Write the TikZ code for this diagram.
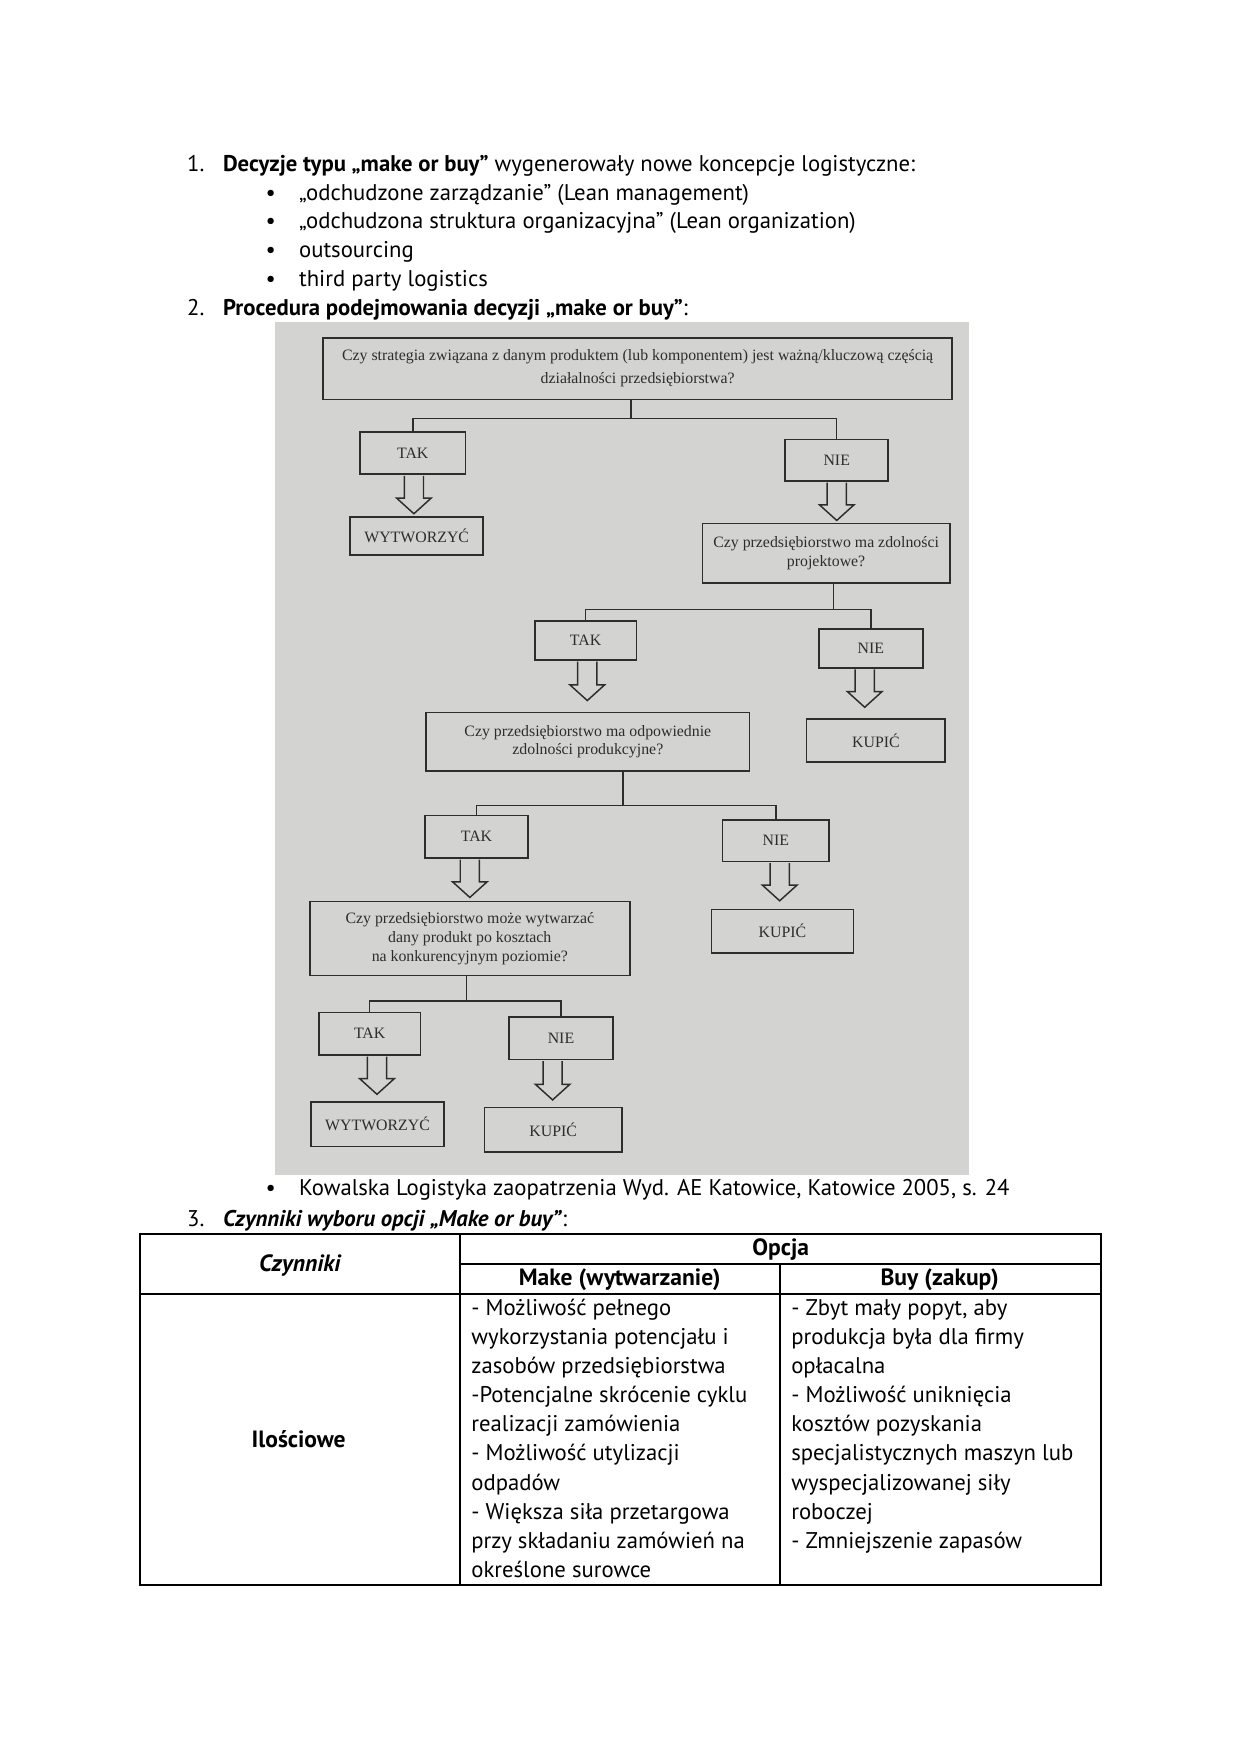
\documentclass[tikz,border=0pt]{standalone}
\usepackage{fontspec}
\setmainfont{PT Sans}
\newfontfamily\fcserif{Liberation Serif}
\usetikzlibrary{calc}
\definecolor{photo}{RGB}{211,211,209}
\definecolor{ink}{RGB}{45,45,45}
\tikzset{
  wh/.style 2 args={minimum width=#1*0.5368pt, minimum height=#2*0.5368pt},
  fcbox/.style={draw=ink, line width=0.8pt, fill=photo, inner sep=1pt, align=center,
    font=\fcserif\fontsize{7.6}{9}\selectfont, text=ink},
  fcline/.style={draw=ink, line width=0.7pt},
  harr/.style={draw=ink, line width=0.7pt, fill=photo},
  tline/.style={line width=1pt},
  doc/.style={font=\fontsize{10.9}{14}\selectfont, inner sep=0pt, anchor=base west},
  cell/.style={font=\fontsize{11.3}{14}\selectfont\bfseries, inner sep=0pt, anchor=center},
}
\newcommand\harrow[4]{%
  \draw[harr] let \p1=(#1.south), \p2=(#2.north), \p3=(#3,0) in
    ({\x3-4.6pt},{\y1-0.4pt}) -- ({\x3-4.6pt},{\y2+#4*0.5368pt+7.5pt})
    -- ({\x3-8.3pt},{\y2+#4*0.5368pt+7.5pt}) -- ({\x3},{\y2+#4*0.5368pt})
    -- ({\x3+8.3pt},{\y2+#4*0.5368pt+7.5pt}) -- ({\x3+4.6pt},{\y2+#4*0.5368pt+7.5pt})
    -- ({\x3+4.6pt},{\y1-0.4pt});}
\begin{document}
\begin{tikzpicture}[x=0.5368pt,y=-0.5368pt]
\useasboundingbox (0,0) rectangle (1109,1568);
\fill[white] (0,0) rectangle (1109,1568);

% ---------- section 1 ----------
\node[doc] (num1) at (167,153) {1.};
\node[doc] (l1) at (199,153) {\textbf{Decyzje typu „make or buy”} wygenerowały nowe koncepcje logistyczne:};
\foreach \t [count=\i] in {{„odchudzone zarządzanie” (Lean management)},
  {„odchudzona struktura organizacyjna” (Lean organization)},
  {outsourcing}, {third party logistics}}{
  \node[doc] (bul\i) at (237,{153+25.8*\i}) {•};
  \node[doc] (it\i) at (267,{153+25.8*\i}) {\t};
}
\node[doc] (num2) at (167,282) {2.};
\node[doc] (l2) at (199,282) {\textbf{Procedura podejmowania decyzji „make or buy”}:};

% ---------- flowchart (photo) ----------
\fill[photo] (246,288) rectangle (866,1050);

\node[fcbox, wh={562}{55}, font=\fcserif\fontsize{7.6}{11}\selectfont] (b1) at (570,329.5)
  {Czy strategia związana z danym produktem (lub komponentem) jest ważną/kluczową częścią\\działalności przedsiębiorstwa?};
\node[fcbox, wh={94}{38}] (t1) at (369,405) {TAK};
\node[fcbox, wh={92}{37}] (n1) at (748,411.5) {NIE};
\node[fcbox, wh={119}{34}] (w1) at (372.5,479) {WYTWORZYĆ};
\node[fcbox, wh={221}{53}] (b2) at (738.5,494.5) {Czy przedsiębiorstwo ma zdolności\\projektowe?};
\node[fcbox, wh={91}{35}] (t2) at (523.5,572.5) {TAK};
\node[fcbox, wh={93}{35}] (n2) at (778.5,579.5) {NIE};
\node[fcbox, wh={289}{52}] (b3) at (525.5,663) {Czy przedsiębiorstwo ma odpowiednie\\zdolności produkcyjne?};
\node[fcbox, wh={124}{38}] (k1) at (783,662) {KUPIĆ};
\node[fcbox, wh={92}{38}] (t3) at (426,748) {TAK};
\node[fcbox, wh={95}{37}] (n3) at (693.5,751.5) {NIE};
\node[fcbox, wh={286}{66}] (b4) at (420,839) {Czy przedsiębiorstwo może wytwarzać\\dany produkt po kosztach\\na konkurencyjnym poziomie?};
\node[fcbox, wh={127}{39}] (k2) at (699.5,832.5) {KUPIĆ};
\node[fcbox, wh={91}{38}] (t4) at (330.5,924) {TAK};
\node[fcbox, wh={93}{38}] (n4) at (501.5,928) {NIE};
\node[fcbox, wh={119}{40}] (w2) at (337.5,1005) {WYTWORZYĆ};
\node[fcbox, wh={123}{40}] (k3) at (494.5,1010) {KUPIĆ};

% tree connectors
\coordinate (j1) at (564,374);
\draw[fcline] (b1.south -| j1) -- (j1);
\draw[fcline] (t1.north) |- (j1) -| (n1.north);
\coordinate (j2) at (745,545);
\draw[fcline] (b2.south -| j2) -- (j2);
\draw[fcline] (t2.north) |- (j2) -| (n2.north);
\coordinate (j3) at (557,720);
\draw[fcline] (b3.south -| j3) -- (j3);
\draw[fcline] (t3.north) |- (j3) -| (n3.north);
\coordinate (j4) at (417,895);
\draw[fcline] (b4.south -| j4) -- (j4);
\draw[fcline] (t4.north) |- (j4) -| (n4.north);

% hollow arrows
\harrow{t1}{w1}{370}{2}
\harrow{n1}{b2}{748}{2}
\harrow{t2}{b3}{525}{10}
\harrow{n2}{k1}{773}{10}
\harrow{t3}{b4}{420}{3}
\harrow{n3}{k2}{697}{7}
\harrow{t4}{w2}{337}{6}
\harrow{n4}{k3}{494}{6}

% ---------- source + section 3 ----------
\node[doc] (bul5) at (237,1069) {•};
\node[doc] (src) at (267,1069) {Kowalska Logistyka zaopatrzenia Wyd. AE Katowice, Katowice 2005, s. 24};
\node[doc] (num3) at (167,1096) {3.};
\node[doc] (l3) at (199,1096) {\textbf{\itshape Czynniki wyboru opcji „Make or buy”}:};

% table
\draw[tline] (125,1103) rectangle (984,1417);
\draw[tline] (411,1103) -- (411,1417);
\draw[tline] (411,1130) -- (984,1130);
\draw[tline] (125,1157) -- (984,1157);
\draw[tline] (697,1130) -- (697,1417);

\node[cell] (hc) at (268,1131) {\itshape Czynniki};
\node[cell] (ho) at (698,1117) {Opcja};
\node[cell] (hm) at (554,1144) {Make (wytwarzanie)};
\node[cell] (hb) at (840,1144) {Buy (zakup)};
\node[cell] (il) at (267,1287) {Ilościowe};

\foreach \t [count=\i] in {{- Możliwość pełnego}, {wykorzystania potencjału i},
  {zasobów przedsiębiorstwa}, {-Potencjalne skrócenie cyklu}, {realizacji zamówienia},
  {- Możliwość utylizacji}, {odpadów}, {- Większa siła przetargowa},
  {przy składaniu zamówień na}, {określone surowce}}{
  \node[doc] (mk\i) at (421,{1150+26*\i}) {\t};
}
\foreach \t [count=\i] in {{- Zbyt mały popyt, aby}, {produkcja była dla firmy},
  {opłacalna}, {- Możliwość uniknięcia}, {kosztów pozyskania},
  {specjalistycznych maszyn lub}, {wyspecjalizowanej siły}, {roboczej},
  {- Zmniejszenie zapasów}}{
  \node[doc] (by\i) at (707,{1150+26*\i}) {\t};
}
\end{tikzpicture}
\end{document}
